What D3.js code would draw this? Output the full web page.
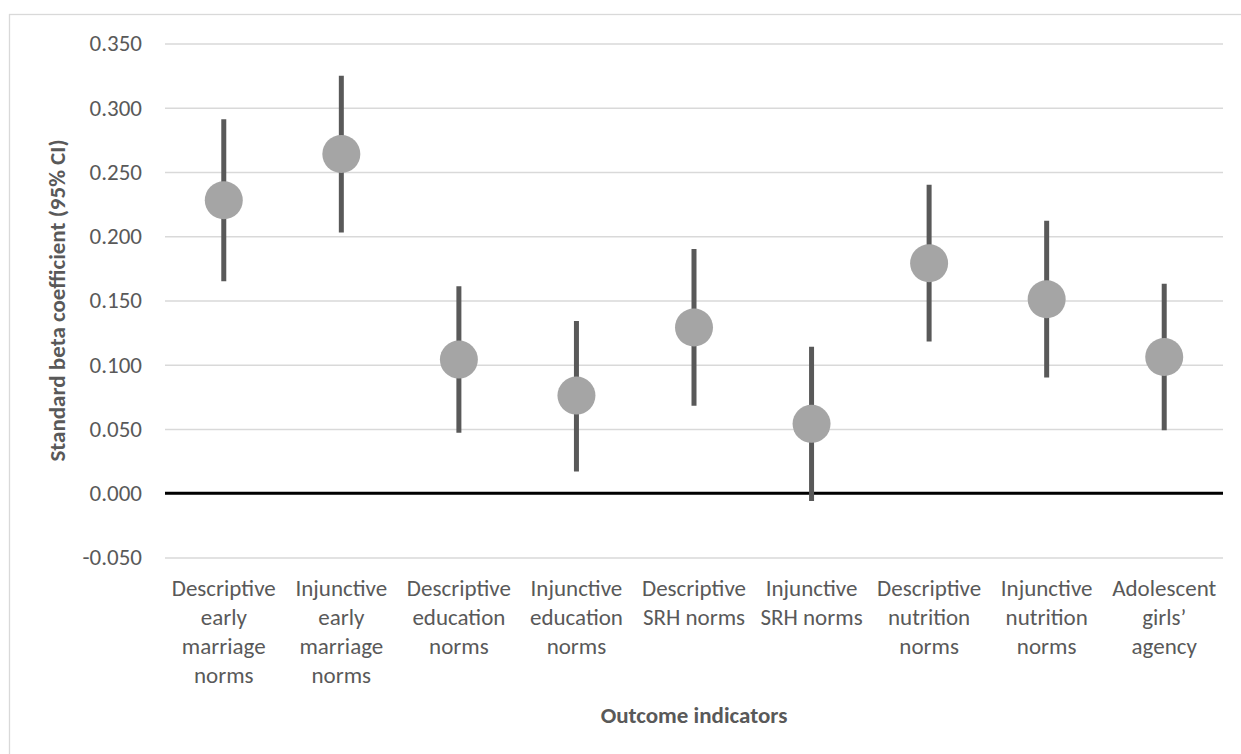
<!DOCTYPE html>
<html>
<head>
<meta charset="utf-8">
<script src="https://cdn.jsdelivr.net/npm/d3@7"></script>
<style>
  body { margin: 0; background: #fff; }
  text { font-family: Calibri, Carlito, "Open Sans", sans-serif; fill: #595959; }
</style>
</head>
<body>
<div id="my_dataviz"></div>
<script>
// data
var categories = [
  ["Descriptive", "early", "marriage", "norms"],
  ["Injunctive", "early", "marriage", "norms"],
  ["Descriptive", "education", "norms"],
  ["Injunctive", "education", "norms"],
  ["Descriptive", "SRH norms"],
  ["Injunctive", "SRH norms"],
  ["Descriptive", "nutrition", "norms"],
  ["Injunctive", "nutrition", "norms"],
  ["Adolescent", "girls\u2019", "agency"]
];
var beta   = [0.228, 0.264, 0.104, 0.076, 0.129, 0.054, 0.179, 0.151, 0.106];
var ciLow  = [0.165, 0.203, 0.047, 0.017, 0.068, -0.006, 0.118, 0.090, 0.049];
var ciHigh = [0.291, 0.325, 0.161, 0.134, 0.190, 0.114, 0.240, 0.212, 0.163];
var yTicks = [-0.05, 0, 0.05, 0.1, 0.15, 0.2, 0.25, 0.3, 0.35];

var W = 1241, H = 754;
var margin = {top: 43.5, right: 18, bottom: 196.5, left: 165},
    width = W - margin.left - margin.right,
    height = H - margin.top - margin.bottom;

var svg0 = d3.select("#my_dataviz")
  .append("svg")
    .attr("width", W)
    .attr("height", H);

// chart border
svg0.append("rect")
  .attr("x", 9.5).attr("y", 14.5)
  .attr("width", 1240).attr("height", 760)
  .attr("fill", "none")
  .attr("stroke", "#d9d9d9")
  .attr("stroke-width", 1.3);

var svg = svg0.append("g")
  .attr("transform", "translate(" + margin.left + "," + margin.top + ")");

var x = d3.scaleBand()
  .domain(d3.range(categories.length))
  .range([0, width])
  .padding(0);

var y = d3.scaleLinear()
  .domain([-0.05, 0.35])
  .range([height, 0]);

// excel style numbers, plain hyphen for negatives
var fmt = function(d) { return d3.format(".3f")(d).replace("\u2212", "-"); };

// gridlines + tick labels
svg.append("g")
  .call(d3.axisLeft(y).tickValues(yTicks).tickSize(-width).tickFormat(fmt).tickPadding(23))
  .call(function(g) { g.select(".domain").remove(); })
  .call(function(g) {
    g.selectAll(".tick line").attr("stroke", "#d9d9d9").attr("stroke-width", 1.5);
    g.selectAll(".tick text").style("font-size", "23px").attr("fill", "#595959");
  });

// zero line
svg.append("line")
  .attr("x1", 0).attr("x2", width)
  .attr("y1", y(0)).attr("y2", y(0))
  .attr("stroke", "#000")
  .attr("stroke-width", 3.2);

// whiskers
svg.append("g")
  .selectAll("line")
  .data(beta)
  .enter().append("line")
    .attr("x1", function(d, i) { return x(i) + x.bandwidth() / 2; })
    .attr("x2", function(d, i) { return x(i) + x.bandwidth() / 2; })
    .attr("y1", function(d, i) { return y(ciLow[i]); })
    .attr("y2", function(d, i) { return y(ciHigh[i]); })
    .attr("stroke", "#595959")
    .attr("stroke-width", 5);

// points
svg.append("g")
  .selectAll("circle")
  .data(beta)
  .enter().append("circle")
    .attr("cx", function(d, i) { return x(i) + x.bandwidth() / 2; })
    .attr("cy", function(d) { return y(d); })
    .attr("r", 19)
    .attr("fill", "#a5a5a5");

// category labels (wrapped)
var lab = svg.append("g")
  .selectAll("text")
  .data(categories)
  .enter().append("text")
    .attr("x", function(d, i) { return x(i) + x.bandwidth() / 2; })
    .attr("y", height + 38.5)
    .style("text-anchor", "middle")
    .style("font-size", "23px");
lab.selectAll("tspan")
  .data(function(d) { return d; })
  .enter().append("tspan")
    .attr("x", function() { return d3.select(this.parentNode).attr("x"); })
    .attr("dy", function(d, i) { return i == 0 ? 0 : 29; })
    .text(function(d) { return d; });

// axis titles
svg.append("text")
  .attr("x", width / 2)
  .attr("y", height + 165)
  .style("text-anchor", "middle")
  .style("font-size", "23px")
  .style("font-weight", "bold")
  .text("Outcome indicators");

svg.append("text")
  .attr("transform", "rotate(-90)")
  .attr("x", -height / 2)
  .attr("y", -100)
  .style("text-anchor", "middle")
  .style("font-size", "23px")
  .style("font-weight", "bold")
  .text("Standard beta coefficient (95% CI)");
</script>
</body>
</html>
